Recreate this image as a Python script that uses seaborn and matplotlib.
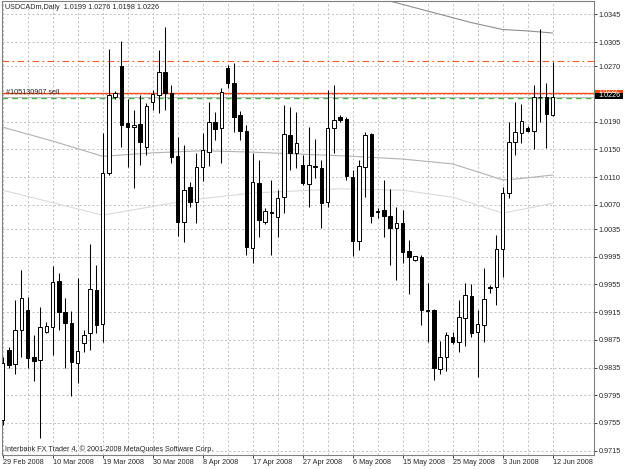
import numpy as np
import pandas as pd
import matplotlib
matplotlib.use('Agg')
import matplotlib.pyplot as plt
import matplotlib.transforms as mtransforms
from matplotlib.patches import Rectangle
import seaborn as sns

# Cotacoes diarias USDCADm, 29 Feb 2008 ate 12 Jun 2008 (uma barra por dia)
abertura = [0.9759, 0.9860, 0.9840, 0.9889, 0.9918, 0.9850, 0.9846, 0.9886, 0.9893, 0.9960,
            0.9915, 0.9899, 0.9841, 0.9870, 0.9885, 0.9947, 0.9898, 1.0116, 1.0226, 1.0270,
            1.0188, 1.0182, 1.0187, 1.0153, 1.0218, 1.0229, 1.0262, 1.0231, 1.0140, 1.0045,
            1.0096, 1.0074, 1.0125, 1.0146, 1.0190, 1.0181, 1.0267, 1.0246, 1.0200, 1.0177,
            1.0008, 1.0101, 1.0045, 1.0059, 1.0052, 1.0081, 1.0171, 1.0145, 1.0127, 1.0100,
            1.0126, 1.0123, 1.0074, 1.0181, 1.0197, 1.0194, 1.0110, 1.0018, 1.0125, 1.0172,
            1.0061, 1.0062, 1.0054, 1.0036, 1.0044, 1.0003, 0.9990, 0.9995, 0.9918, 0.9918,
            0.9833, 0.9850, 0.9879, 0.9872, 0.9907, 0.9938, 0.9886, 0.9896, 0.9951, 0.9951,
            1.0006, 1.0087, 1.0161, 1.0174, 1.0181, 1.0177, 1.0226, 1.0226, 1.0199]
maxima = [0.9850, 0.9865, 0.9933, 0.9976, 0.9937, 0.9882, 0.9922, 0.9901, 0.9982, 0.9972,
          0.9935, 0.9917, 0.9964, 0.9889, 1.0013, 0.9983, 1.0174, 1.0295, 1.0234, 1.0306,
          1.0222, 1.0207, 1.0229, 1.0217, 1.0236, 1.0293, 1.0327, 1.0243, 1.0168, 1.0156,
          1.0103, 1.0145, 1.0174, 1.0218, 1.0204, 1.0239, 1.0272, 1.0275, 1.0205, 1.0185,
          1.0145, 1.0135, 1.0065, 1.0106, 1.0091, 1.0214, 1.0211, 1.0204, 1.0142, 1.0182,
          1.0165, 1.0135, 1.0236, 1.0243, 1.0200, 1.0197, 1.0120, 1.0135, 1.0175, 1.0174,
          1.0065, 1.0106, 1.0093, 1.0067, 1.0062, 1.0019, 0.9996, 0.9998, 0.9957, 0.9920,
          0.9873, 0.9886, 0.9886, 0.9933, 0.9957, 0.9956, 0.9918, 0.9979, 0.9954, 1.0026,
          1.0096, 1.0190, 1.0218, 1.0216, 1.0184, 1.0243, 1.0324, 1.0246, 1.0276]
minima = [0.9752, 0.9834, 0.9826, 0.9850, 0.9834, 0.9815, 0.9733, 0.9885, 0.9853, 0.9889,
          0.9834, 0.9794, 0.9813, 0.9857, 0.9860, 0.9885, 0.9872, 1.0113, 1.0223, 1.0153,
          1.0125, 1.0094, 1.0127, 1.0142, 1.0207, 1.0203, 1.0207, 1.0130, 1.0025, 1.0016,
          1.0067, 1.0044, 1.0104, 1.0126, 1.0164, 1.0130, 1.0239, 1.0175, 1.0164, 0.9998,
          0.9986, 1.0024, 1.0042, 0.9998, 1.0024, 1.0058, 1.0120, 1.0123, 1.0099, 1.0067,
          1.0109, 1.0036, 1.0067, 1.0145, 1.0190, 1.0106, 0.9996, 1.0005, 1.0081, 1.0044,
          1.0051, 1.0024, 0.9983, 0.9961, 0.9986, 0.9941, 0.9989, 0.9896, 0.9872, 0.9817,
          0.9826, 0.9830, 0.9869, 0.9857, 0.9866, 0.9879, 0.9821, 0.9872, 0.9943, 0.9926,
          0.9966, 1.0080, 1.0142, 1.0159, 1.0175, 1.0151, 1.0190, 1.0152, 1.0198]
fechamento = [0.9841, 0.9839, 0.9889, 0.9935, 0.9849, 0.9844, 0.9893, 0.9895, 0.9959, 0.9915,
              0.9899, 0.9843, 0.9859, 0.9882, 0.9948, 0.9896, 1.0116, 1.0229, 1.0231, 1.0185,
              1.0182, 1.0185, 1.0161, 1.0213, 1.0230, 1.0262, 1.0231, 1.0139, 1.0045, 1.0091,
              1.0074, 1.0125, 1.0149, 1.0190, 1.0179, 1.0233, 1.0246, 1.0197, 1.0177, 1.0009,
              1.0103, 1.0048, 1.0061, 1.0058, 1.0080, 1.0172, 1.0145, 1.0159, 1.0101, 1.0127,
              1.0125, 1.0073, 1.0181, 1.0192, 1.0193, 1.0112, 1.0018, 1.0126, 1.0171, 1.0054,
              1.0060, 1.0054, 1.0036, 1.0044, 1.0002, 0.9995, 0.9996, 0.9918, 0.9917, 0.9834,
              0.9850, 0.9882, 0.9872, 0.9908, 0.9940, 0.9885, 0.9898, 0.9934, 0.9950, 1.0006,
              1.0087, 1.0161, 1.0175, 1.0191, 1.0177, 1.0226, 1.0225, 1.0201, 1.0226]

# Medias moveis (indice da barra, preco)
media_a_barra = [0, 8, 16, 24, 32, 40, 48, 56, 64, 72, 80, 82, 88]
media_a_preco = [1.0182, 1.0162, 1.0140, 1.0145, 1.0148, 1.0146, 1.0143, 1.0140, 1.0136, 1.0129, 1.0106, 1.0107, 1.0113]
media_b_barra = [0, 16, 30, 40, 54, 64, 72, 80, 88]
media_b_preco = [1.0091, 1.0055, 1.0077, 1.0087, 1.0093, 1.0091, 1.0081, 1.0058, 1.0072]
media_c_barra = [55, 62, 75, 80, 84, 88]
media_c_preco = [1.0381, 1.0364, 1.0333, 1.0323, 1.0321, 1.0318]

# Niveis horizontais
nivel_alvo = 1.0277
nivel_ordem = 1.0232
nivel_bid = 1.0226
nivel_verde = 1.0224

datas_rotulos = ['29 Feb 2008', '10 Mar 2008', '19 Mar 2008', '30 Mar 2008', '8 Apr 2008', '17 Apr 2008',
                 '27 Apr 2008', '6 May 2008', '15 May 2008', '25 May 2008', '3 Jun 2008', '12 Jun 2008']
preco_ticks = [0.9715, 0.9755, 0.9795, 0.9835, 0.9875, 0.9915, 0.9955, 0.9995, 1.0035, 1.0070,
               1.0110, 1.0150, 1.0190, 1.0230, 1.0270, 1.0305, 1.0345]
# o rotulo 1.0230 fica escondido pelas etiquetas de preco
preco_rotulos = ['0.9715', '0.9755', '0.9795', '0.9835', '0.9875', '0.9915', '0.9955', '0.9995', '1.0035',
                 '1.0070', '1.0110', '1.0150', '1.0190', '', '1.0270', '1.0305', '1.0345']

sns.set_style('white')
plt.rcParams['font.family'] = ['Liberation Sans', 'DejaVu Sans']

Base = pd.DataFrame({'Abertura': abertura, 'Maxima': maxima, 'Minima': minima, 'Fechamento': fechamento})
Base['Barra'] = np.arange(len(Base))
alta = Base['Fechamento'] >= Base['Abertura']

fig = plt.figure(figsize=(6.25, 4.69), dpi=100)
ax = fig.add_axes([2 / 625, 14 / 469, 592 / 625, 453.5 / 469])

# grade pontilhada
ax.set_axisbelow(True)
ax.set_xticks(np.arange(0, 89, 8))
ax.set_xticks(np.arange(4, 89, 8), minor=True)
ax.set_xticklabels(datas_rotulos, ha='left')
ax.set_yticks(preco_ticks)
ax.set_yticklabels(preco_rotulos)
ax.grid(True, axis='x', which='both', color='#c4c4c4', linestyle=(0, (2.2, 2.2)), linewidth=0.7)
ax.grid(True, axis='y', which='major', color='#c4c4c4', linestyle=(0, (2.2, 2.2)), linewidth=0.7)

# medias moveis
sns.lineplot(x=media_b_barra, y=media_b_preco, ax=ax, color='#dadada', linewidth=0.8, zorder=1.5)
sns.lineplot(x=media_a_barra, y=media_a_preco, ax=ax, color='#b2b2b2', linewidth=0.8, zorder=1.5)
sns.lineplot(x=media_c_barra, y=media_c_preco, ax=ax, color='#8e8e8e', linewidth=0.8, zorder=1.5)

# linhas de ordem
ax.axhline(nivel_alvo, color='#ff5a28', linewidth=0.8, linestyle=(0, (6, 3, 1.5, 3)), zorder=1.6)
ax.axhline(nivel_verde, color='#40b840', linewidth=1.0, linestyle=(0, (4, 3)), zorder=1.6)
ax.axhline(nivel_bid, color='#b8b8b8', linewidth=0.7, zorder=1.6)
ax.axhline(nivel_ordem, color='#ff4a14', linewidth=1.0, zorder=1.7)

# candles
ax.vlines(Base['Barra'], Base['Minima'], Base['Maxima'], color='black', linewidth=0.75, zorder=2)
corpo_base = Base[['Abertura', 'Fechamento']].min(axis=1)
corpo_altura = (Base['Fechamento'] - Base['Abertura']).abs().clip(lower=0.00004)
ax.bar(Base['Barra'], corpo_altura, bottom=corpo_base, width=0.56,
       color=np.where(alta, 'white', 'black'), edgecolor='black', linewidth=0.7, zorder=3)

ax.set_xlim(-0.112, 94.61)
ax.set_ylim(0.970877, 1.036348)

ax.yaxis.tick_right()
ax.tick_params(axis='x', which='major', length=2.2, width=0.7, pad=1.0, labelsize=5.2, color='#404040', bottom=True)
ax.tick_params(axis='x', which='minor', length=0, bottom=False)
ax.tick_params(axis='y', length=2.2, width=0.7, pad=1.2, labelsize=5.2, color='#404040', right=True, left=False)
for lado in ['left', 'right', 'top', 'bottom']:
    ax.spines[lado].set_visible(True)
    ax.spines[lado].set_color('#808080')
    ax.spines[lado].set_linewidth(0.8)

# textos
ax.text(0.0046, 0.9868, 'USDCADm,Daily  1.0199 1.0276 1.0198 1.0226', transform=ax.transAxes,
        fontsize=5.2, va='center', ha='left', zorder=5)
ax.text(0.005, 0.0132, 'Interbank FX Trader 4, \u00a9 2001-2008 MetaQuotes Software Corp.', transform=ax.transAxes,
        fontsize=5.2, va='center', ha='left', zorder=5)
mistura = mtransforms.blended_transform_factory(ax.transAxes, ax.transData)
ax.text(0.0065, nivel_ordem + 0.00005, '#105130907 sell', transform=mistura, fontsize=5.2,
        va='center', ha='left', zorder=5)

# etiquetas de preco no eixo (a laranja fica meio coberta pela preta)
ax.add_patch(Rectangle((1.0017, nivel_ordem - 0.00045), 0.0473, 0.00087, transform=mistura,
                       facecolor='#ff4a14', edgecolor='none', clip_on=False, zorder=6))
ax.text(1.0068, nivel_ordem + 0.00022, '1.0232', transform=mistura, fontsize=4.6, color='white',
        va='center', ha='left', clip_on=False, zorder=6.5)
ax.add_patch(Rectangle((1.0017, nivel_bid - 0.00033), 0.0473, 0.00091, transform=mistura,
                       facecolor='black', edgecolor='none', clip_on=False, zorder=7))
ax.text(1.0068, nivel_bid + 0.00012, '1.0226', transform=mistura, fontsize=5.2, color='white',
        va='center', ha='left', clip_on=False, zorder=7.5)

plt.savefig('out.png', dpi=100, facecolor='white')
